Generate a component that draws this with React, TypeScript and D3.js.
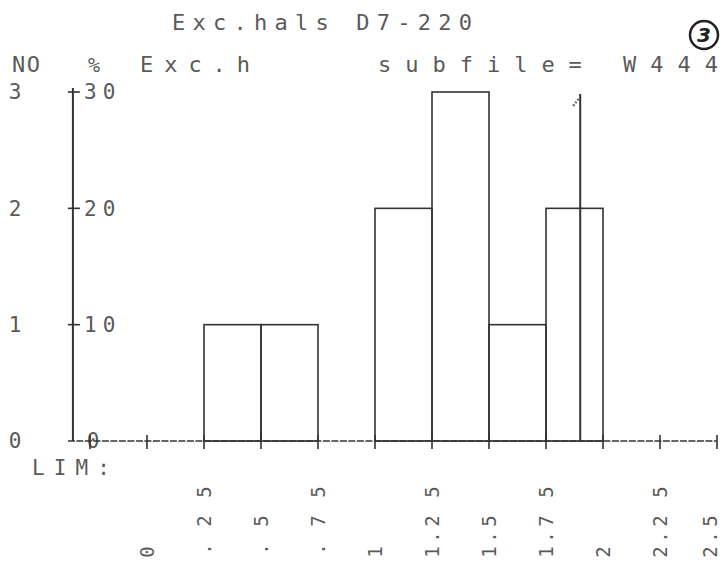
import React from "react";
import * as d3 from "d3";

// histogram of Exc.h, bins of 0.25
const binStart = [0.25, 0.5, 1.0, 1.25, 1.5, 1.75];
const binCount = [1, 1, 2, 3, 1, 2];
const binWidth = 0.25;

const limTicks = [-0.25, 0, 0.25, 0.5, 0.75, 1, 1.25, 1.5, 1.75, 2, 2.25, 2.5];
const limLabels = ["0", ".25", ".5", ".75", "1", "1.25", "1.5", "1.75", "2", "2.25", "2.5"];
const noTicks = [0, 1, 2, 3];
const pctLabels = ["0", "10", "20", "30"];

const markerValue = 1.9;

const W = 724;
const H = 570;
const font = "'DejaVu Sans Mono', monospace";
const ink = "#5a5a5a";
const line = "#333";

// printer rows for the rotated LIM digits
const rowInt = 552;
const rowFrac = [521, 492];

function limChars(label: string) {
  const [ip, fp = ""] = label.split(".");
  const out: { ch: string; y: number }[] = [];
  if (ip) out.push({ ch: ip, y: rowInt });
  if (label.includes(".")) out.push({ ch: ".", y: ip ? 537 : 549 });
  fp.split("").forEach((c, k) => out.push({ ch: c, y: rowFrac[k] }));
  return out;
}

export default function App() {
  const x = d3.scaleLinear().domain([0, 2.5]).range([147, 717]);
  const y = d3.scaleLinear().domain([0, 3]).range([441, 92]);
  const axisX = x(-0.325);
  const y0 = y(0);
  const mx = x(markerValue);

  return (
    <svg
      width={W}
      height={H}
      style={{ position: "absolute", left: 0, top: 0, background: "#fff" }}
      fontFamily={font}
    >
      {/* header */}
      <text x={172} y={30} fontSize={22} fill={ink} textLength={300} lengthAdjust="spacing">
        Exc.hals D7-220
      </text>
      <text x={12} y={72} fontSize={22} fill={ink} textLength={28} lengthAdjust="spacing">NO</text>
      <text x={88} y={72} fontSize={20} fill={ink}>%</text>
      <text x={140} y={72} fontSize={22} fill={ink} textLength={110} lengthAdjust="spacing">Exc.h</text>
      <text x={378} y={72} fontSize={22} fill={ink} textLength={340} lengthAdjust="spacing">
        subfile= W444
      </text>
      <circle cx={704} cy={35} r={14} fill="none" stroke="#222" strokeWidth={2.5} />
      <text x={704} y={42} fontSize={20} fontWeight="bold" fill="#222" textAnchor="middle"
        fontFamily="'DejaVu Sans', sans-serif" fontStyle="italic">3</text>

      {/* bars */}
      {binStart.map((s, i) => (
        <rect
          key={i}
          x={x(s)}
          y={y(binCount[i])}
          width={x(s + binWidth) - x(s)}
          height={y0 - y(binCount[i])}
          fill="none"
          stroke={line}
          strokeWidth={1.6}
        />
      ))}

      {/* marker */}
      <line x1={mx} x2={mx} y1={y(3) + 2} y2={y0} stroke={line} strokeWidth={2} />
      <path
        d={`M${mx - 7},${y(3) + 14} L${mx - 1},${y(3) + 6}`}
        stroke="#666"
        strokeWidth={2.2}
        strokeDasharray="2,1.5"
      />

      {/* y axis */}
      <line x1={axisX} x2={axisX} y1={y(3) - 4} y2={y0} stroke={line} strokeWidth={2} />
      {noTicks.map((t, i) => (
        <g key={t}>
          {t > 0 && (
            <line x1={axisX - 5} x2={axisX + 7} y1={y(t)} y2={y(t)} stroke={line} strokeWidth={1.6} />
          )}
          <text x={15} y={y(t)} dy="0.35em" fontSize={21} fill={ink} textAnchor="middle">
            {t}
          </text>
          <text
            x={i === 0 ? 93 : 84}
            y={y(t)}
            dy="0.35em"
            fontSize={21}
            fill={ink}
            textAnchor={i === 0 ? "middle" : "start"}
            letterSpacing={i === 0 ? 0 : 6}
          >
            {pctLabels[i]}
          </text>
        </g>
      ))}

      {/* x axis */}
      <line x1={axisX - 5} x2={x(2.5)} y1={y0} y2={y0} stroke={line} strokeWidth={1.5} strokeDasharray="7,1.5" />
      {limTicks.map((t) => (
        <line key={t} x1={x(t)} x2={x(t)} y1={y0 - 6} y2={y0 + 8} stroke={line} strokeWidth={1.6} />
      ))}

      {/* LIM labels, printed sideways */}
      <text x={32} y={475} fontSize={21} fill={ink} textLength={78} lengthAdjust="spacing">LIM:</text>
      {limLabels.map((l, i) => {
        const cx = Math.min(x(limTicks[i + 1]), 710);
        return (
          <g key={l}>
            {limChars(l).map((c, k) => (
              <text
                key={k}
                transform={`translate(${cx},${c.y}) rotate(-90)`}
                dy="0.35em"
                textAnchor="middle"
                fontSize={19}
                fill={ink}
              >
                {c.ch}
              </text>
            ))}
          </g>
        );
      })}
    </svg>
  );
}
